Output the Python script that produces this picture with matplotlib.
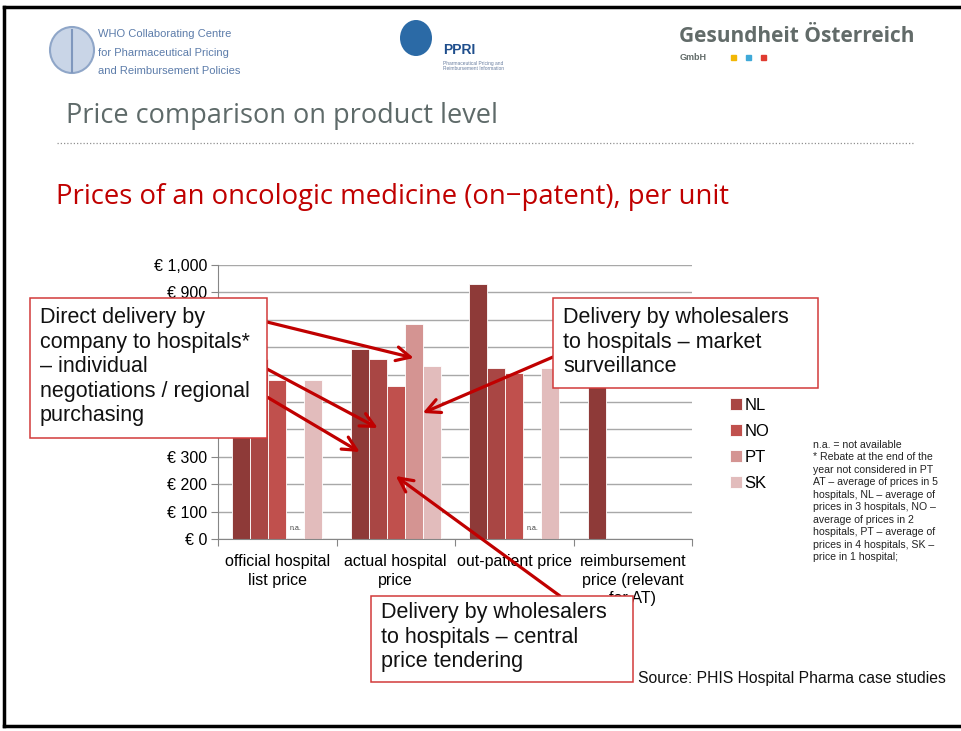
import numpy as np
import matplotlib
matplotlib.use('Agg')
import matplotlib.pyplot as plt
from matplotlib.patches import Rectangle, Ellipse
from matplotlib.lines import Line2D
from matplotlib.ticker import FuncFormatter

plt.rcParams['font.family'] = ['Liberation Sans', 'DejaVu Sans']

# data (AT bars partly hidden behind the callouts, estimated)
categories = ['official hospital\nlist price', 'actual hospital\nprice',
              'out-patient price', 'reimbursement\nprice (relevant\nfor AT)']
countries = ['AT', 'NL', 'NO', 'PT', 'SK']
at_vals = [672, 695, 932, 620]
nl_vals = [656, 656, 623, np.nan]
no_vals = [579, 557, 606, np.nan]
pt_vals = [np.nan, 783, np.nan, np.nan]
sk_vals = [579, 630, 623, np.nan]
na_cells = [(0, 'PT'), (2, 'PT')]   # shown as "n.a."
colors = ['#8E3A38', '#A94644', '#C0504D', '#D49492', '#E2BCBC']

notes = ("n.a. = not available\n"
         "* Rebate at the end of the\n"
         "year not considered in PT\n"
         "AT \u2013 average of prices in 5\n"
         "hospitals, NL \u2013 average of\n"
         "prices in 3 hospitals, NO \u2013\n"
         "average of prices in 2\n"
         "hospitals, PT \u2013 average of\n"
         "prices in 4 hospitals, SK \u2013\n"
         "price in 1 hospital;")

W, H = 961, 731
RED = '#C00000'


def fx(x):
    return x / W


def fy(y):
    return 1 - y / H


fig = plt.figure(figsize=(W / 100, H / 100), dpi=100)

# slide frame
for xs, ys in [([4, 961], [7, 7]), ([4, 4], [7, 726]), ([4, 961], [726, 726])]:
    fig.add_artist(Line2D([fx(v) for v in xs], [fy(v) for v in ys],
                          color='black', lw=2.5, transform=fig.transFigure))

# header logos (simplified)
fig.add_artist(Ellipse((fx(72), fy(50)), 44 / W, 46 / H, facecolor='#C9D5E7',
                       edgecolor='#8FA6C8', lw=1.5, transform=fig.transFigure))
fig.add_artist(Line2D([fx(72), fx(72)], [fy(30), fy(72)], color='#7F97BD', lw=1.5,
                      transform=fig.transFigure))
for i, line in enumerate(['WHO Collaborating Centre', 'for Pharmaceutical Pricing',
                          'and Reimbursement Policies']):
    fig.text(fx(98), fy(34 + i * 18.5), line, fontsize=8, color='#5C7CAA',
             va='center', family=['Liberation Sans Narrow', 'Liberation Sans'])

fig.add_artist(Ellipse((fx(416), fy(38)), 32 / W, 36 / H, facecolor='#2B6AA6',
                       edgecolor='none', transform=fig.transFigure))
fig.text(fx(443), fy(50), 'PPRI', fontsize=10, weight='bold', color='#1F4E8C', va='center')
fig.text(fx(443), fy(63), 'Pharmaceutical Pricing and', fontsize=3.5, color='#6A7FA0', va='center')
fig.text(fx(443), fy(69), 'Reimbursement Information', fontsize=3.5, color='#6A7FA0', va='center')

fig.text(fx(679), fy(37), 'Gesundheit \u00d6sterreich', fontsize=15, weight='bold',
         color='#626B69', va='center', family=['Open Sans', 'DejaVu Sans'])
fig.text(fx(680), fy(58), 'GmbH', fontsize=6.5, weight='bold', color='#626B69', va='center')
for xd, cd in [(733, '#F2B705'), (748, '#3FA9D8'), (763, '#E03C31')]:
    fig.add_artist(Rectangle((fx(xd - 2.5), fy(59.5)), 5 / W, 5 / H, color=cd,
                             transform=fig.transFigure))

fig.text(fx(66), fy(116), 'Price comparison on product level', fontsize=19.5,
         color='#5E6A69', va='center', family=['Open Sans', 'DejaVu Sans'])
fig.add_artist(Line2D([fx(57), fx(915)], [fy(143), fy(143)], color='#909090', lw=0.9,
                      ls=(0, (1, 1.6)), transform=fig.transFigure))
fig.text(fx(56), fy(197), 'Prices of an oncologic medicine (on\u2212patent), per unit',
         fontsize=19.8, color=RED, va='center', family=['Open Sans', 'DejaVu Sans'])

# chart
ax = fig.add_axes([fx(218), fy(539), fx(692) - fx(218), fy(265) - fy(539)])
x = np.arange(len(categories))
bar_w = 18 / 118.5
series = [at_vals, nl_vals, no_vals, pt_vals, sk_vals]
offsets = {}
for k, (name, vals) in enumerate(zip(countries, series)):
    vals = np.array(vals, dtype=float)
    m = ~np.isnan(vals)
    off = (k - 2) * bar_w
    offsets[name] = off
    ax.bar(x[m] + off, vals[m], width=bar_w, color=colors[k], edgecolor='white',
           linewidth=0.6, label=name, zorder=2)

for ci, name in na_cells:
    ax.text(x[ci] + offsets[name], 40, 'n.a.', fontsize=5, color='#404040',
            ha='center', va='center')

ax.set_xlim(-0.5, len(categories) - 0.5)
ax.set_ylim(0, 1000)
ax.set_yticks(np.arange(0, 1001, 100))
ax.yaxis.set_major_formatter(FuncFormatter(lambda v, p: f'\u20ac {v:,.0f}'))
ax.yaxis.grid(True, color='#A8A8A8', lw=1)
ax.set_axisbelow(True)
for s in ['top', 'right']:
    ax.spines[s].set_visible(False)
for s in ['left', 'bottom']:
    ax.spines[s].set_color('#868686')
ax.set_xticks(np.arange(-0.5, len(categories), 1.0))
ax.set_xticklabels([])
ax.set_xticks(x, minor=True)
ax.set_xticklabels(categories, minor=True, fontsize=11.5, linespacing=1.27)
ax.tick_params(axis='x', which='major', length=5, color='#868686')
ax.tick_params(axis='x', which='minor', length=0, pad=11)
ax.tick_params(axis='y', length=5, color='#868686', labelsize=11.5, pad=3)

ax.legend(loc='upper left', bbox_to_anchor=(fx(730), fy(372)), bbox_transform=fig.transFigure,
          frameon=False, fontsize=12, handlelength=0.7, handleheight=0.7,
          handletextpad=0.15, labelspacing=0.66, borderaxespad=0, borderpad=0)

fig.text(fx(813), fy(440), notes, fontsize=7.6, va='top', linespacing=1.31, color='#222222')
fig.text(fx(638), fy(678), 'Source: PHIS Hospital Pharma case studies', fontsize=11.3,
         va='center', color='#111111')

# arrows from the callouts to the bars
ypx = 1000 / (539 - 265)
arrows = [((267, 322), 1 + offsets['PT'], (539 - 358) * ypx),
          ((267, 369), 1 + offsets['NL'], (539 - 428) * ypx),
          ((267, 397), 1 + offsets['AT'], (539 - 452) * ypx),
          ((553, 357), 1 + 1.5 * bar_w, (539 - 413) * ypx),
          ((560, 596), 1 + offsets['NO'], (539 - 476) * ypx)]
for (sx, sy), tx, ty in arrows:
    ax.annotate('', xy=(tx, ty), xycoords='data', xytext=(fx(sx), fy(sy)),
                textcoords='figure fraction', annotation_clip=False, zorder=6,
                arrowprops=dict(arrowstyle='->,head_length=1.0,head_width=0.5', color=RED,
                                lw=2.3, shrinkA=0, shrinkB=0, mutation_scale=10))

# callout boxes
boxes = [((30, 298, 267, 438), (40, 307),
          'Direct delivery by\ncompany to hospitals*\n\u2013 individual\nnegotiations / regional\npurchasing'),
         ((553, 298, 818, 388), (563, 307),
          'Delivery by wholesalers\nto hospitals \u2013 market\nsurveillance'),
         ((371, 596, 633, 682), (381, 602),
          'Delivery by wholesalers\nto hospitals \u2013 central\nprice tendering')]
for (x0, y0, x1, y1), (tx, ty), txt in boxes:
    fig.add_artist(Rectangle((fx(x0), fy(y1)), (x1 - x0) / W, (y1 - y0) / H,
                             facecolor='white', edgecolor='#D23A3A', lw=1.1,
                             transform=fig.transFigure, zorder=10))
    fig.text(fx(tx), fy(ty), txt, fontsize=15.5, va='top', linespacing=1.22,
             color='#111111', zorder=11)

fig.savefig('out.png', dpi=100)
